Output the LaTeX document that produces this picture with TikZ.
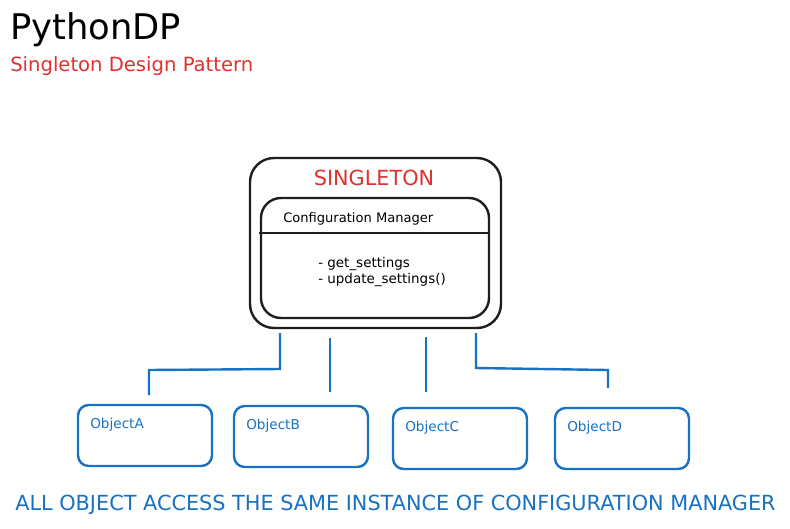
\documentclass[tikz,border=0pt]{standalone}
\usepackage{fontspec}
\setmainfont{DejaVu Sans}
\begin{document}
\begin{tikzpicture}[x=0.75pt,y=-0.75pt,
  inkred/.style={text={rgb,255:red,224;green,49;blue,49}},
  inkblue/.style={text={rgb,255:red,25;green,113;blue,194}},
  blackbox/.style={draw={rgb,255:red,30;green,30;blue,30},line width=1.8pt,rounded corners=18pt},
  objbox/.style={draw={rgb,255:red,25;green,113;blue,194},line width=1.8pt,rounded corners=8pt},
  wire/.style={draw={rgb,255:red,25;green,113;blue,194},line width=1.8pt},
  lbl/.style={inner sep=0pt,anchor=west}]
\useasboundingbox[fill=white] (0,0) rectangle (790,529);
% title
\node[lbl,font=\fontsize{26.5}{30}\selectfont] (title) at (10,30) {PythonDP};
\node[lbl,inkred,font=\fontsize{14.7}{17}\selectfont] (subtitle) at (10,66) {Singleton Design Pattern};
% singleton boxes
\draw[blackbox] (250,158) rectangle (501,328);
\node[draw=none,minimum width=251*0.75pt,minimum height=170*0.75pt,anchor=north west] (outer) at (250,158) {};
\node[inkred,font=\fontsize{15.6}{18}\selectfont] (singleton) at (374,178) {SINGLETON};
\draw[blackbox,rounded corners=15pt] (261,198) rectangle (489,318);
\node[draw=none,minimum width=228*0.75pt,minimum height=120*0.75pt,anchor=north west] (inner) at (261,198) {};
\draw[line width=1.8pt,draw={rgb,255:red,30;green,30;blue,30}] (259,233) -- (490,233);
\node[lbl,font=\fontsize{9.8}{11}\selectfont] (cm) at (283,219) {Configuration Manager};
\node[lbl,align=left,font=\fontsize{10.1}{12}\selectfont] (methods) at (318,272) {- get\_settings\\- update\_settings()};
% object boxes
\foreach \n/\x/\y in {A/78/405,B/234/406,C/393/408,D/555/408}{
  \draw[objbox] (\x,\y) rectangle ++(134,61);
  \node[draw=none,minimum width=134*0.75pt,minimum height=61*0.75pt,anchor=north west] (obj\n) at (\x,\y) {};
  \node[lbl,inkblue,font=\fontsize{10.2}{12}\selectfont] (lbl\n) at ([xshift=9pt,yshift=-14.5pt]obj\n.north west) {Object\n};
}
% connectors
\coordinate (s1) at (280,333); \coordinate (e1) at (149,395);
\coordinate (s2) at (330,338); \coordinate (e2) at (330,392);
\coordinate (s3) at (426,337); \coordinate (e3) at (426,392);
\coordinate (s4) at (476,333); \coordinate (e4) at (608,388);
\draw[wire] (s1) -- (280,369) -- (149,370) -- (e1);
\draw[wire] (s2) -- (e2);
\draw[wire] (s3) -- (e3);
\draw[wire] (s4) -- (476,368) -- (608,370) -- (e4);
% footer
\node[inkblue,font=\fontsize{15.6}{18}\selectfont] (footer) at (395.5,505) {ALL OBJECT ACCESS THE SAME INSTANCE OF CONFIGURATION MANAGER};
\end{tikzpicture}
\end{document}
